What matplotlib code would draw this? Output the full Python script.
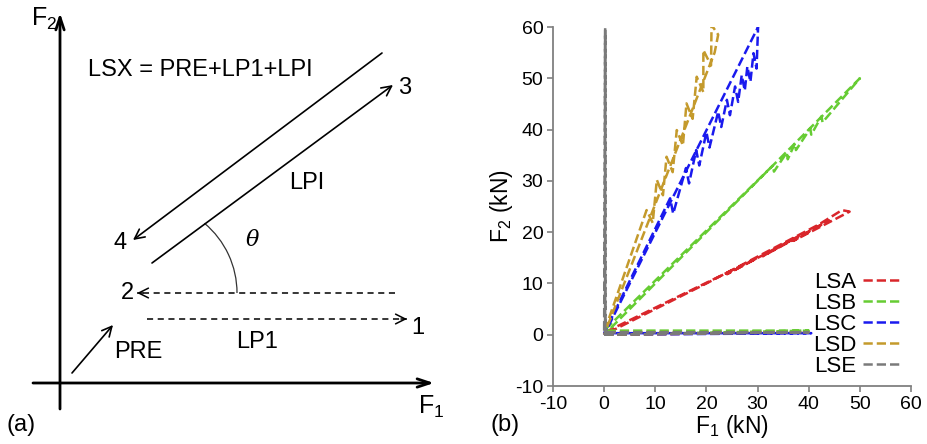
import matplotlib as mpl
mpl.use('agg')
import matplotlib.pyplot as plt
from matplotlib.patches import Arc

plt.rcParams['font.family'] = ['Liberation Sans', 'DejaVu Sans']
plt.rcParams['mathtext.default'] = 'regular'
plt.rcParams['axes.unicode_minus'] = False

# ---- (b) measured load paths, F1 / F2 in kN ----
series = ["LSA", "LSB", "LSC", "LSD", "LSE"]
colors = ["#d9262b", "#66cc33", "#1a1aee", "#c49a2c", "#7a7a7a"]

lsa_f1 = [0, 40, 0, 30, 24, 38, 31, 44, 37, 48, 46.5, 42, 20, 0]
lsa_f2 = [0, 0.4, 0.4, 15, 11.8, 19.2, 15.3, 22.3, 18.3, 24.0, 24.3, 21.5, 10, 0]

lsb_f1 = [0, 40, 0, 33, 33.2, 35.7, 35.9, 37.3, 37.5, 40.3, 40.5, 42.5, 42.7, 50, 0]
lsb_f2 = [0, 0.8, 0.8, 33, 31.8, 35.5, 34.2, 37.3, 36.0, 40.2, 39.0, 42.6, 41.4, 50, 0]

lsc_f1 = [0, 40.5, 0, 12.9, 13.5, 16, 16.6, 18, 18.6, 20, 20.6, 22.3, 22.9, 24.0, 24.6,
          25.6, 26.2, 26.9, 27.5, 28.0, 28.6, 29.2, 29.8, 30.1, 0]
lsc_f2 = [0, 0.3, 0.3, 26.6, 23.6, 32.5, 29.5, 36, 33, 39.5, 36.5, 43.5, 40.5, 45.8, 42.8,
          48.4, 45.4, 50.6, 47.6, 52.3, 49.3, 54.9, 51.9, 60.0, 0]

lsd_f1 = [0, 40, 0, 8.3, 9.5, 10.3, 11.5, 12.2, 13.4, 14.2, 15.4, 16.1, 17.3, 18.1, 19.4,
          19.4, 20.9, 21.0, 22.3, 21.6, 0]
lsd_f2 = [0, 0.5, 0.5, 24.3, 21.8, 30.2, 27.2, 34.7, 31.7, 39.9, 36.9, 45.1, 42.1, 50.3, 47.3,
          55.5, 52.5, 60.4, 58.5, 55.0, 0]

lse_f1 = [0, 40, 0, 0.2, 0.2, 0.2, 0.2]
lse_f2 = [0, 0.5, 0.5, 60, 0, 58.7, 0]

xs = [lsa_f1, lsb_f1, lsc_f1, lsd_f1, lse_f1]
ys = [lsa_f2, lsb_f2, lsc_f2, lsd_f2, lse_f2]

x_ticks = [-10, 0, 10, 20, 30, 40, 50, 60]
y_ticks = [-10, 0, 10, 20, 30, 40, 50, 60]

# ---- (a) schematic, in panel pixel units ----
axis_f1 = [(33, 383), (434, 383)]
axis_f2 = [(60, 409), (60, 13)]
path_34 = [(382, 53), (133, 240)]
path_23 = [(152, 263), (393, 85)]
path_12 = [(395, 293), (137, 293)]
path_01 = [(147, 319), (407, 319)]
path_pre = [(72, 373), (113, 325)]
labels_a = [("3", 405, 88), ("4", 120, 243), ("LPI", 307, 183), ("2", 127, 293),
            ("1", 418, 328), ("LP1", 257, 342), ("PRE", 138, 352)]

fig = plt.figure(figsize=(9.28, 4.44), dpi=100)

# panel (a)
axa = fig.add_axes([0, 0, 464 / 928, 1])
axa.set_xlim(0, 464)
axa.set_ylim(444, 0)
axa.axis('off')


def arrow(ax, pts, lw, hw=0.35, hl=0.7):
    ax.annotate("", xy=pts[1], xytext=pts[0],
                arrowprops=dict(arrowstyle="->,head_width=%g,head_length=%g" % (hw, hl),
                                lw=lw, color='black', shrinkA=0, shrinkB=0))


def dashed_arrow(ax, pts, lw):
    (x0, y0), (x1, y1) = pts
    ax.plot([x0, x1], [y0, y1], color='black', lw=lw, ls=(0, (4, 3)))
    step = 6 if x1 > x0 else -6
    arrow(ax, [(x1 - step, y1), (x1, y1)], lw)


arrow(axa, axis_f1, 2.0, hw=0.3, hl=0.9)
arrow(axa, axis_f2, 2.0, hw=0.3, hl=0.9)
arrow(axa, path_34, 1.2)
arrow(axa, path_23, 1.2)
dashed_arrow(axa, path_12, 1.1)
dashed_arrow(axa, path_01, 1.1)
arrow(axa, path_pre, 1.2)
axa.add_patch(Arc((146, 293), 182, 182, theta1=-50, theta2=0, lw=0.9, color='#333333'))

axa.text(88, 70, "LSX = PRE+LP1+LPI", fontsize=17, va='center', ha='left')
for s, x, y in labels_a:
    axa.text(x, y, s, fontsize=17, va='center', ha='center')
axa.text(252, 240, "θ", fontsize=16, va='center', ha='center',
         family='DejaVu Serif', style='italic')
axa.text(31, 19, "F$_2$", fontsize=18, va='center', ha='left')
axa.text(418, 407, "F$_1$", fontsize=18, va='center', ha='left')
axa.text(7, 425, "(a)", fontsize=17, va='center', ha='left')

# panel (b)
ax = fig.add_axes([553 / 928, 1 - 386 / 444, 358 / 928, 359 / 444])
for x, y, c, name in zip(xs, ys, colors, series):
    ax.plot(x, y, color=c, lw=1.8, ls='--', label=name)
ax.set_xlim(-10, 60)
ax.set_ylim(-10, 60)
ax.set_xticks(x_ticks)
ax.set_yticks(y_ticks)
for side in ['top', 'right']:
    ax.spines[side].set_visible(False)
for side in ['left', 'bottom']:
    ax.spines[side].set_color('#808080')
    ax.spines[side].set_linewidth(1.3)
ax.tick_params(colors='#808080', labelcolor='black', labelsize=14, length=4, width=1.2, pad=3)
ax.set_xlabel("F$_1$ (kN)", fontsize=16.5, labelpad=0)
ax.set_ylabel("F$_2$ (kN)", fontsize=16.5, labelpad=0)
ax.legend(loc='lower right', bbox_to_anchor=(0.99, 0.0), frameon=False, markerfirst=False,
          fontsize=16, handlelength=1.6, handletextpad=0.3, labelspacing=0.0, borderaxespad=0.0)
fig.text(490 / 928, 1 - 425 / 444, "(b)", fontsize=17, va='center', ha='left')

plt.savefig("out.png", dpi=100)
